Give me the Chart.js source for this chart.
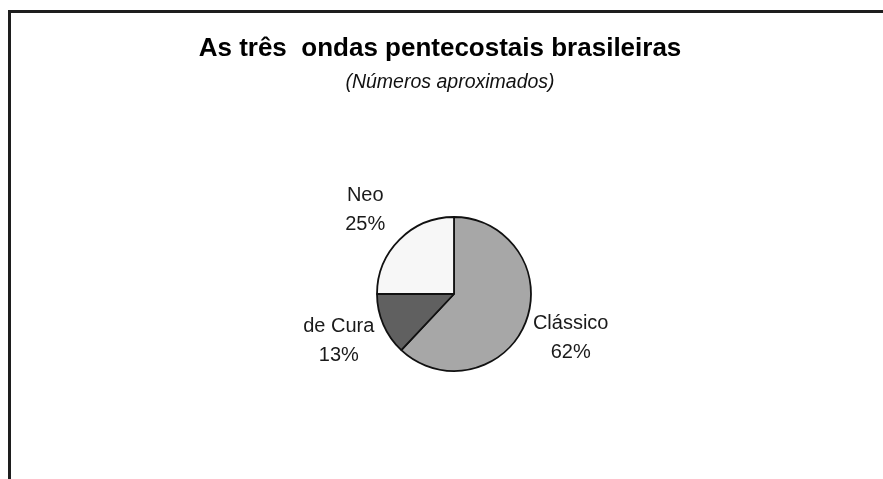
<!DOCTYPE html>
<html>
<head>
<meta charset="utf-8">
<script src="https://cdn.jsdelivr.net/npm/chart.js@4.4.1/dist/chart.umd.min.js"></script>
<style>
  html, body { margin: 0; padding: 0; background: #ffffff; }
  #wrap { position: relative; width: 883px; height: 479px; }
</style>
</head>
<body>
<div id="wrap"><canvas id="c" width="883" height="479"></canvas></div>
<script>
const categories = ["Clássico", "de Cura", "Neo"];
const percentValues = [62, 13, 25];
const sliceColors = ["#a7a7a7", "#606060", "#f7f7f7"];
const titleText = "As três  ondas pentecostais brasileiras";
const subtitleText = "(Números aproximados)";

const FONT = "'Liberation Sans', Arial, Helvetica, sans-serif";

const framePlugin = {
  id: "frame",
  beforeDraw(chart) {
    const ctx = chart.ctx;
    ctx.save();
    ctx.fillStyle = "#ffffff";
    ctx.fillRect(0, 0, chart.width, chart.height);
    ctx.strokeStyle = "#1e1e1e";
    ctx.lineWidth = 3;
    ctx.beginPath();
    ctx.moveTo(9.5, chart.height);
    ctx.lineTo(9.5, 11.5);
    ctx.lineTo(chart.width, 11.5);
    ctx.stroke();
    ctx.restore();
  }
};

const headingPlugin = {
  id: "heading",
  afterDraw(chart) {
    const ctx = chart.ctx;
    ctx.save();
    ctx.textAlign = "center";
    ctx.textBaseline = "alphabetic";
    ctx.fillStyle = "#000000";
    ctx.font = "bold 26px " + FONT;
    ctx.fillText(titleText, 440, 56);
    ctx.fillStyle = "#111111";
    ctx.font = "italic 19.5px " + FONT;
    ctx.fillText(subtitleText, 450, 88);
    ctx.restore();
  }
};

const outsideLabels = {
  id: "outsideLabels",
  afterDatasetsDraw(chart) {
    const ctx = chart.ctx;
    const meta = chart.getDatasetMeta(0);
    const ds = chart.data.datasets[0];
    ctx.save();
    ctx.font = "20px " + FONT;
    ctx.fillStyle = "#1a1a1a";
    ctx.textAlign = "center";
    ctx.textBaseline = "middle";
    meta.data.forEach((arc, i) => {
      const p = arc.getProps(["x", "y", "startAngle", "endAngle", "outerRadius"], true);
      const mid = (p.startAngle + p.endAngle) / 2;
      const r = p.outerRadius;
      const lx = p.x + Math.cos(mid) * r * 1.63;
      const ly = p.y + Math.sin(mid) * r * 1.55;
      ctx.fillText(chart.data.labels[i], lx, ly - 14.5);
      ctx.fillText(ds.data[i] + "%", lx, ly + 14.5);
    });
    ctx.restore();
  }
};

new Chart(document.getElementById("c"), {
  type: "pie",
  data: {
    labels: categories,
    datasets: [{
      data: percentValues,
      backgroundColor: sliceColors,
      borderColor: "#111111",
      borderWidth: 1.8,
      hoverOffset: 0
    }]
  },
  options: {
    responsive: false,
    animation: false,
    radius: 77,
    layout: { padding: { left: 25, right: 0, top: 114, bottom: 5 } },
    plugins: {
      legend: { display: false },
      tooltip: { enabled: false },
      title: { display: false },
      subtitle: { display: false }
    }
  },
  plugins: [framePlugin, outsideLabels, headingPlugin]
});
</script>
</body>
</html>
